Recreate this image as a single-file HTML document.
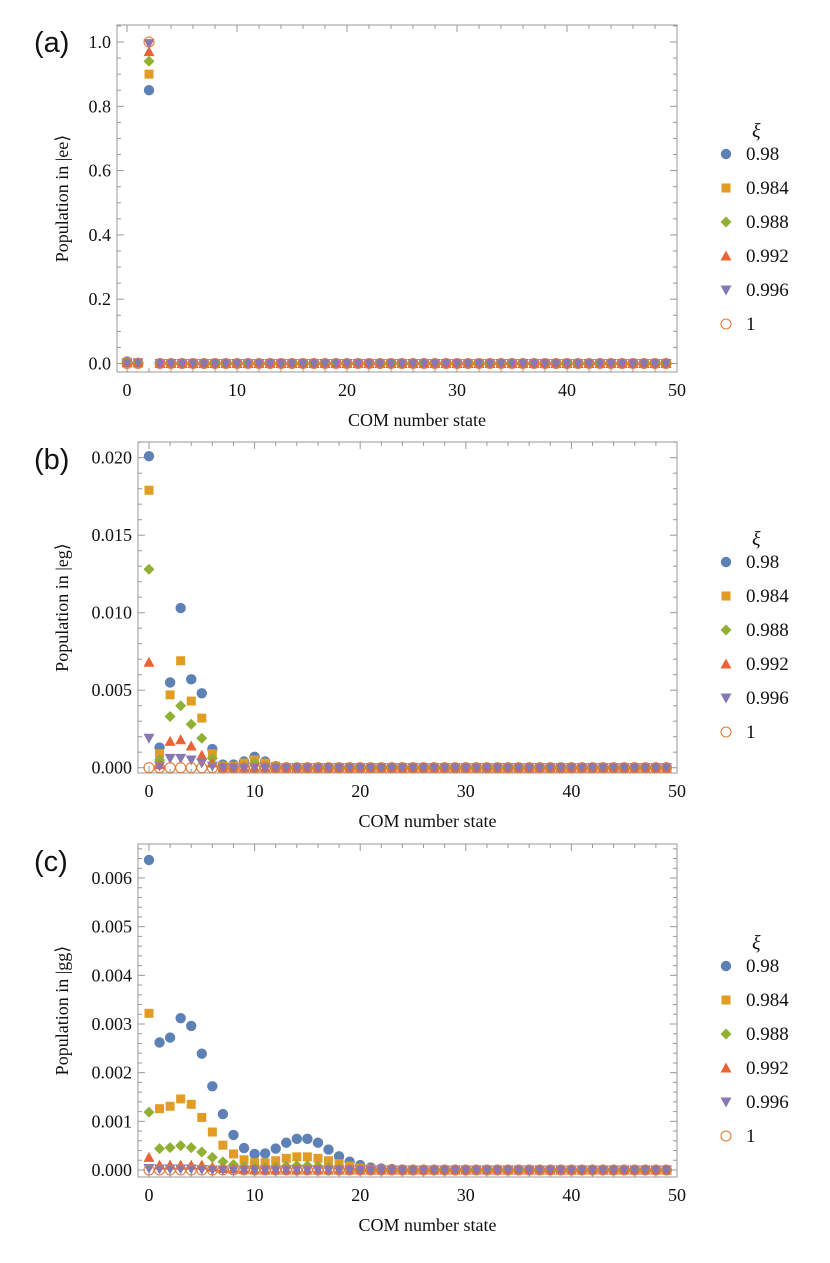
<!DOCTYPE html>
<html><head><meta charset="utf-8">
<style>
html,body{margin:0;padding:0;background:#fff;}
svg{display:block;font-family:"Liberation Serif",serif;}
</style></head>
<body>
<svg id="fig" width="830" height="1263" viewBox="0 0 830 1263" xmlns="http://www.w3.org/2000/svg"></svg>
<script>
const seriesLabels = ["0.98","0.984","0.988","0.992","0.996","1"];
const xTickLabels = [0,10,20,30,40,50];
// panel (a) |ee>
const eeS0 = [0.006,0.002,0.85];
const eeS1 = [0.004,0.002,0.90];
const eeS2 = [0.003,0.002,0.94];
const eeS3 = [0.002,0.002,0.97];
const eeS4 = [0.001,0.002,0.995];
const eeS5 = [0,0,1.0];
// panel (b) |eg>
const egS0 = [0.0201,0.0013,0.0055,0.0103,0.0057,0.0048,0.0012,0.0002,0.0002,0.0004,0.0007,0.0004,0.0001];
const egS1 = [0.0179,0.0009,0.0047,0.0069,0.0043,0.0032,0.0009,0.0001,0.0001,0.0003,0.0005,0.0003,0.0001];
const egS2 = [0.0128,0.0005,0.0033,0.0040,0.0028,0.0019,0.0006,0.0001,0,0.0001,0.0003,0.0001];
const egS3 = [0.0068,0.0002,0.0017,0.0018,0.0014,0.0008,0.0003];
const egS4 = [0.0019,0.0001,0.0006,0.0006,0.0005,0.0003,0.0001];
const egS5 = [0];
// panel (c) |gg>
const ggS0 = [0.00637,0.00262,0.00272,0.00312,0.00296,0.00239,0.00172,0.00115,0.00072,0.00045,0.00033,0.00034,0.00044,0.00056,0.00064,0.00064,0.00056,0.00042,0.00028,0.00017,0.0001,0.00005,0.00003,0.00002,0.00001];
const ggS1 = [0.00322,0.00126,0.00131,0.00146,0.00135,0.00108,0.00078,0.00051,0.00033,0.00021,0.00015,0.00015,0.00019,0.00024,0.00027,0.00027,0.00024,0.00019,0.00013,0.00008,0.00004,0.00002,0.00001];
const ggS2 = [0.00119,0.00044,0.00046,0.0005,0.00046,0.00037,0.00026,0.00017,0.00011,0.00007,0.00005,0.00005,0.00006,0.00008,0.00009,0.00009,0.00008,0.00006,0.00004,0.00002,0.00001];
const ggS3 = [0.00026,0.0001,0.0001,0.0001,0.0001,0.0001,0.00006,0.00003,0.00002,0.00001];
const ggS4 = [0.00003,0.00002,0.00002,0.00002,0.00002,0.00001];
const ggS5 = [0];
const N = 50;

const NS="http://www.w3.org/2000/svg";
const svg=document.getElementById('fig');
const colors=["#5E81B5","#E19C24","#8FB032","#EB6235","#8778B3","#E07B39"];
function mk(tag,attrs,parent){const e=document.createElementNS(NS,tag);for(const k in attrs)e.setAttribute(k,attrs[k]);(parent||svg).appendChild(e);return e;}
function marker(g,k,x,y){
  let e;const c=colors[k];
  if(k===0){e=mk('circle',{cx:x,cy:y,r:5.2,fill:c},g);}
  else if(k===1){e=mk('rect',{x:x-4.5,y:y-4.5,width:9,height:9,fill:c},g);}
  else if(k===2){e=mk('polygon',{points:`${x},${y-5.5} ${x+5.5},${y} ${x},${y+5.5} ${x-5.5},${y}`,fill:c},g);}
  else if(k===3){e=mk('polygon',{points:`${x},${y-5.5} ${x+5.5},${y+4.5} ${x-5.5},${y+4.5}`,fill:c},g);}
  else if(k===4){e=mk('polygon',{points:`${x},${y+5.5} ${x+5.5},${y-4.5} ${x-5.5},${y-4.5}`,fill:c},g);}
  else {e=mk('circle',{cx:x,cy:y,r:5,fill:'none',stroke:c,'stroke-width':1.1},g);}
  return e;
}
function panel(o){
  const g=mk('g',{});
  
  
  const xs=v=>o.x0+(v-o.xmin)*(o.x1-o.x0)/(o.xmax-o.xmin);
  const ys=v=>o.yZero-v*o.ppu;
  const fr=mk('rect',{x:o.x0,y:o.y0,width:o.x1-o.x0,height:o.y1-o.y0,fill:'none',stroke:'#999','stroke-width':1},g);
  
  for(let v=0;v<=50;v+=2){const X=xs(v);const L=(v%10===0)?7:4;
    mk('line',{x1:X,y1:o.y1,x2:X,y2:o.y1-L,stroke:'#999'},g);
    mk('line',{x1:X,y1:o.y0,x2:X,y2:o.y0+L,stroke:'#999'},g);}
  xTickLabels.forEach(v=>{const t=mk('text',{x:xs(v),y:o.y1+24,'text-anchor':'middle','font-size':18,fill:'#111'},g);t.textContent=v;
    });
  const perMaj=Math.round(o.major/o.minor);
  for(let i=0;i<1000;i++){const v=i*o.minor; const Y=ys(v);
    if(Y<o.y0-0.5) break;
    const isMaj=(i%perMaj===0);const L=isMaj?7:4;
    mk('line',{x1:o.x0,y1:Y,x2:o.x0+L,y2:Y,stroke:'#999'},g);
    mk('line',{x1:o.x1,y1:Y,x2:o.x1-L,y2:Y,stroke:'#999'},g);
    if(isMaj){const t=mk('text',{x:o.x0-6,y:Y+6,'text-anchor':'end','font-size':18,fill:'#111'},g);t.textContent=v.toFixed(o.dec);
      }
  }
  o.series.forEach((arr,k)=>{
    const sg=mk('g',{},g);
    
    
    for(let n=0;n<N;n++){const v=(n<arr.length)?arr[n]:0;
      const m=marker(sg,k,xs(n),ys(v));
      
      }
  });
  const xl=mk('text',{x:(o.x0+o.x1)/2+20,y:o.y1+54,'text-anchor':'middle','font-size':18,fill:'#111'},g);xl.textContent='COM number state';
  
  const yc=(o.y0+o.y1)/2;
  const yl=mk('text',{x:0,y:0,transform:`translate(68,${yc}) rotate(-90)`,'text-anchor':'middle','font-size':18,fill:'#111'},g);yl.textContent=o.ylab;
  
  const pl=mk('text',{x:34,y:o.y0+27,'font-size':29,'font-family':'"Liberation Sans",sans-serif',fill:'#111'},g);pl.textContent=o.tag;
  
  const lg=mk('g',{},g);
  const xi=mk('text',{x:752,y:o.legY-17,'font-size':20,'font-style':'italic',fill:'#111'},lg);xi.textContent='ξ';
  
  seriesLabels.forEach((s,k)=>{const Y=o.legY+k*34;
    const le=mk('g',{},lg);
    marker(le,k,726,Y);
    const t=mk('text',{x:746,y:Y+6,'font-size':19,fill:'#111'},le);t.textContent=s;});
}
panel({name:'panel-a-ee',tag:'(a)',x0:117,x1:677,y0:25,y1:372,xmin:-0.91,xmax:50,yZero:363.5,ppu:321.5,major:0.2,minor:0.05,dec:1,
  series:[eeS0,eeS1,eeS2,eeS3,eeS4,eeS5],ylab:'Population in |ee⟩',legY:154});
panel({name:'panel-b-eg',tag:'(b)',x0:138,x1:677,y0:442,y1:773,xmin:-1.04,xmax:50,yZero:767.7,ppu:15500,major:0.005,minor:0.001,dec:3,
  series:[egS0,egS1,egS2,egS3,egS4,egS5],ylab:'Population in |eg⟩',legY:562});
panel({name:'panel-c-gg',tag:'(c)',x0:138,x1:677,y0:844,y1:1177,xmin:-1.04,xmax:50,yZero:1170,ppu:48667,major:0.001,minor:0.0002,dec:3,
  series:[ggS0,ggS1,ggS2,ggS3,ggS4,ggS5],ylab:'Population in |gg⟩',legY:966});
</script>
</body></html>
